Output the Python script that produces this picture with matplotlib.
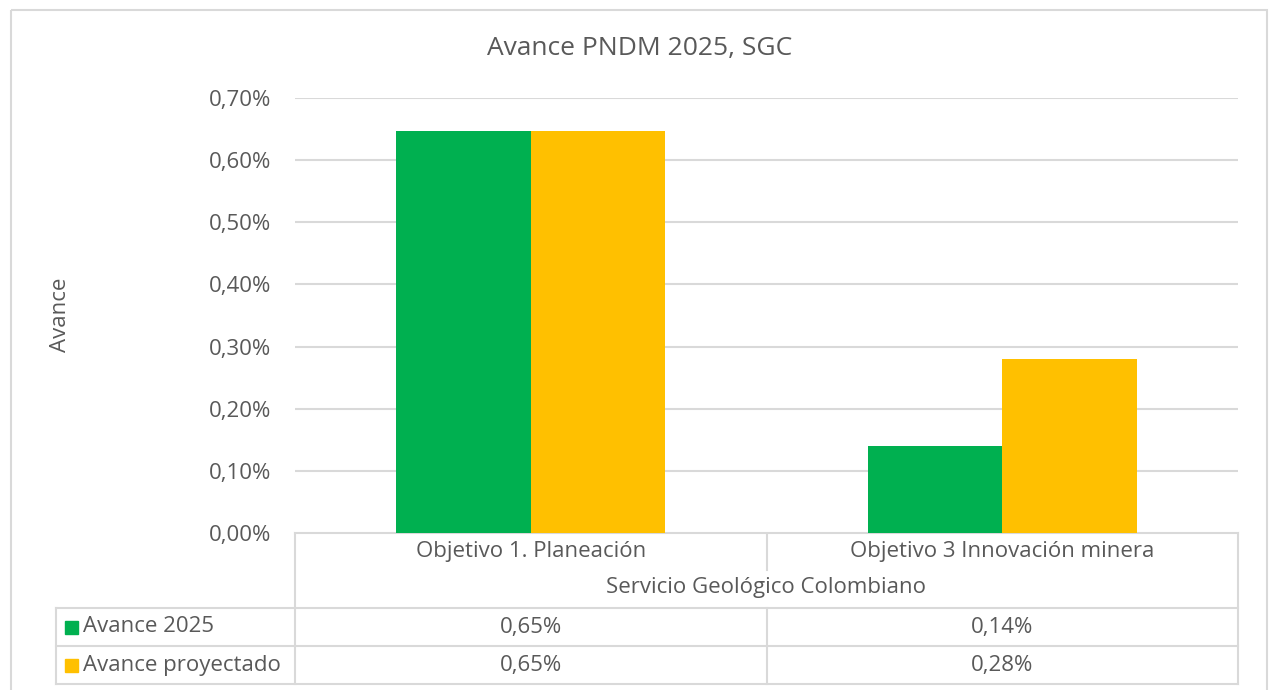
import matplotlib.pyplot as plt
from matplotlib.patches import Rectangle
import numpy as np

# datos
categorias = ['Objetivo 1. Planeación', 'Objetivo 3 Innovación minera']
grupo = 'Servicio Geológico Colombiano'
series = ['Avance 2025', 'Avance proyectado']
avance_2025 = [0.647, 0.14]
avance_proyectado = [0.647, 0.28]
colores = ['#00b050', '#ffc000']
y_ticks = [0.0, 0.1, 0.2, 0.3, 0.4, 0.5, 0.6, 0.7]

plt.rcParams['font.family'] = ['Open Sans', 'DejaVu Sans']
gris = '#595959'
linea = '#d9d9d9'
fs = 16

W, H = 1269, 690
fig = plt.figure(figsize=(W / 100, H / 100), dpi=100)

# plot area
ax = fig.add_axes([295 / W, 1 - 533 / H, (1238 - 295) / W, (533 - 98) / H])
x = np.arange(len(categorias))
ancho = 0.285
ax.bar(x - ancho / 2, avance_2025, ancho, color=colores[0], zorder=3)
ax.bar(x + ancho / 2, avance_proyectado, ancho, color=colores[1], zorder=3)
ax.set_xlim(-0.5, len(categorias) - 0.5)
ax.set_ylim(0, 0.7)
ax.set_yticks(y_ticks)
ax.set_yticklabels([f'{v:.2f}%'.replace('.', ',') for v in y_ticks],
                   fontsize=fs, color=gris)
ax.tick_params(axis='y', length=0, pad=17)
ax.set_xticks([])
ax.grid(axis='y', color=linea, linewidth=1.5, zorder=0)
for s in ax.spines.values():
    s.set_visible(False)

# overlay in pixel coords for border, title and data table
ov = fig.add_axes([0, 0, 1, 1], zorder=-1)
ov.set_xlim(0, W)
ov.set_ylim(H, 0)
ov.axis('off')
ov.add_patch(Rectangle((11, 10), 1256, 700, fill=False, edgecolor=linea, lw=1.5))
ov.text(640, 48, 'Avance PNDM 2025, SGC', ha='center', va='center',
        fontsize=19, color=gris)
ov.text(60, 315, 'Avance', rotation=90, ha='center', va='center',
        fontsize=fs, color=gris)

lk = dict(color=linea, lw=1.5)
xl, x0, xm, x1 = 56, 295, 767, 1238
ov.plot([x0, x0], [533, 684], **lk)
ov.plot([x1, x1], [533, 684], **lk)
ov.plot([xm, xm], [533, 570], **lk)
ov.plot([xm, xm], [608, 684], **lk)
ov.plot([xl, xl], [608, 684], **lk)
ov.plot([x0, x1], [533, 533], **lk)
for yy in [608, 646, 684]:
    ov.plot([xl, x1], [yy, yy], **lk)

centros = [(x0 + xm) / 2, (xm + x1) / 2]
for cx, cat in zip(centros, categorias):
    ov.text(cx, 551, cat, ha='center', va='center', fontsize=fs, color=gris)
ov.text((x0 + x1) / 2, 588, grupo, ha='center', va='center', fontsize=fs, color=gris)

filas = [avance_2025, avance_proyectado]
for i, (nombre, vals, col) in enumerate(zip(series, filas, colores)):
    yc = 627 + i * 38
    ov.add_patch(Rectangle((65, yc - 6.5), 13, 13, color=col))
    ov.text(83, yc, nombre, ha='left', va='center', fontsize=fs, color=gris)
    for cx, v in zip(centros, vals):
        ov.text(cx, yc, f'{v:.2f}%'.replace('.', ','), ha='center', va='center',
                fontsize=fs, color=gris)

fig.savefig('out.png', dpi=100, facecolor='white')
